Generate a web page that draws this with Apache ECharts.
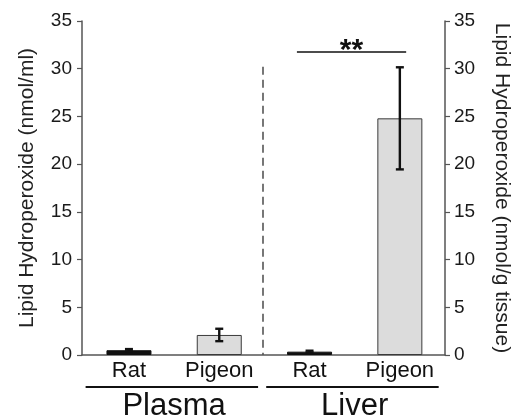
<!DOCTYPE html>
<html>
<head>
<meta charset="utf-8">
<script src="https://cdn.jsdelivr.net/npm/echarts@6/dist/echarts.min.js"></script>
<style>
  html, body { margin: 0; padding: 0; background: #fff; }
  #chart { width: 514px; height: 420px; }
</style>
</head>
<body>
<div id="chart"></div>
<script>
// ---- data ----
const categories = ['Rat', 'Pigeon', 'Rat', 'Pigeon'];
const groups = ['Plasma', 'Liver'];
const groupMembers = [[0, 1], [2, 3]];
const means = [0.5, 2.1, 0.35, 24.8];
const errors = [0.12, 0.65, 0.1, 5.35];
const yTicks = [0, 5, 10, 15, 20, 25, 30, 35];
const leftTitle = 'Lipid Hydroperoxide (nmol/ml)';
const rightTitle = 'Lipid Hydroperoxide (nmol/g tissue)';
const sigPair = [2, 3];
const sigLevel = 31.75;
const sigLabel = '**';
const dividerTop = 30.2;

// ---- build ----
const FONT = 'Liberation Sans, Arial, sans-serif';
const positions = categories.map((c, i) => i);
const barData = means.map((m, i) => ({
  value: [positions[i], m],
  itemStyle: categories[i] === 'Rat'
    ? { color: '#111', borderColor: '#111', borderWidth: 1 }
    : { color: '#dcdcdc', borderColor: '#3a3a3a', borderWidth: 1 }
}));
const errData = means.map((m, i) => [positions[i], m - errors[i], m + errors[i]]);
const groupCenters = groupMembers.map(g => (positions[g[0]] + positions[g[g.length - 1]]) / 2);
const underlineData = groupMembers.map(g => [positions[g[0]] - 0.48, positions[g[g.length - 1]] + 0.43]);
const dividerX = (positions[groupMembers[0][1]] + positions[groupMembers[1][0]]) / 2 - 0.02;

const xMin = -0.52, xMax = 3.5;

const yAxisCommon = {
  type: 'value', min: yTicks[0], max: yTicks[yTicks.length - 1], interval: yTicks[1] - yTicks[0],
  splitLine: { show: false },
  axisLine: { show: true, onZero: false, lineStyle: { color: '#555', width: 1.5 } },
  axisTick: { show: true, length: 5, lineStyle: { color: '#555', width: 1.2 } },
  axisLabel: { fontSize: 19, color: '#1a1a1a', fontFamily: FONT, margin: 10 },
  nameLocation: 'middle',
  nameTextStyle: { fontSize: 21, color: '#222', fontFamily: FONT }
};

const option = {
  animation: false,
  backgroundColor: '#fff',
  grid: { left: 82, right: 69, top: 21, bottom: 65, containLabel: false, outerBoundsMode: 'none' },
  xAxis: [
    {
      type: 'value', min: xMin, max: xMax,
      splitLine: { show: false },
      axisLine: { show: true, onZero: false, lineStyle: { color: '#555', width: 1.5 } },
      axisTick: { show: false },
      axisLabel: {
        customValues: positions,
        formatter: v => categories[Math.round(v)],
        fontSize: 22, color: '#111', fontFamily: FONT, margin: 5
      }
    },
    {
      type: 'value', min: xMin, max: xMax, position: 'bottom', offset: 32,
      splitLine: { show: false },
      axisLine: { show: false, onZero: false },
      axisTick: { show: false },
      axisLabel: {
        customValues: groupCenters,
        formatter: v => groups[groupCenters.findIndex(c => Math.abs(c - v) < 1e-6)],
        fontSize: 31, color: '#111', fontFamily: FONT, margin: 4
      }
    }
  ],
  yAxis: [
    Object.assign({}, yAxisCommon, {
      position: 'left', name: leftTitle, nameRotate: 90, nameGap: 44
    }),
    Object.assign({}, yAxisCommon, {
      position: 'right', name: rightTitle, nameRotate: -90, nameGap: 46,
      axisLabel: Object.assign({}, yAxisCommon.axisLabel, { margin: 9 })
    })
  ],
  series: [
    {
      type: 'bar', xAxisIndex: 0, yAxisIndex: 0,
      barWidth: 45,
      data: barData,
      markLine: {
        silent: true, symbol: 'none', animation: false,
        data: [
          [
            { coord: [dividerX, dividerTop], lineStyle: { color: '#555', width: 1.6, type: [8, 5] }, label: { show: false } },
            { coord: [dividerX, 0] }
          ],
          [
            { coord: [sigPair[0] - 0.14, sigLevel], lineStyle: { color: '#111', width: 1.6, type: 'solid' },
              label: { show: true, formatter: sigLabel, position: 'insideMiddleTop', fontSize: 30, fontWeight: 'bold', color: '#111', fontFamily: FONT, distance: -14 } },
            { coord: [sigPair[1] + 0.07, sigLevel] }
          ]
        ]
      }
    },
    {
      type: 'custom', xAxisIndex: 0, yAxisIndex: 0, z: 5,
      data: errData,
      encode: { x: 0, y: [1, 2] },
      renderItem: function (params, api) {
        const x = api.value(0);
        const lo = api.coord([x, api.value(1)]);
        const hi = api.coord([x, api.value(2)]);
        const hw = 4;
        const st = { stroke: '#111', lineWidth: 2.4 };
        return {
          type: 'group',
          children: [
            { type: 'line', shape: { x1: lo[0], y1: lo[1], x2: hi[0], y2: hi[1] }, style: st },
            { type: 'line', shape: { x1: lo[0] - hw, y1: lo[1], x2: lo[0] + hw, y2: lo[1] }, style: st },
            { type: 'line', shape: { x1: hi[0] - hw, y1: hi[1], x2: hi[0] + hw, y2: hi[1] }, style: st }
          ]
        };
      }
    },
    {
      type: 'custom', xAxisIndex: 0, yAxisIndex: 0, clip: false, silent: true,
      data: underlineData,
      encode: { x: [0, 1] },
      renderItem: function (params, api) {
        const a = api.coord([api.value(0), 0]);
        const b = api.coord([api.value(1), 0]);
        const y = a[1] + 32;
        return { type: 'line', shape: { x1: a[0], y1: y, x2: b[0], y2: y }, style: { stroke: '#111', lineWidth: 1.8 } };
      }
    }
  ]
};

const chart = echarts.init(document.getElementById('chart'), null, { renderer: 'canvas' });
chart.setOption(option);
</script>
</body>
</html>
